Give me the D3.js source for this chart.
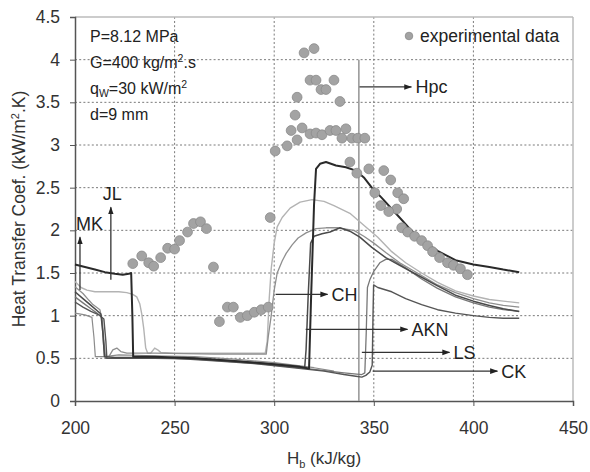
<!DOCTYPE html>
<html>
<head>
<meta charset="utf-8">
<script src="https://cdnjs.cloudflare.com/ajax/libs/d3/7.8.5/d3.min.js"></script>
<style>
body { margin: 0; background: #fff; }
text { font-family: "Liberation Sans", Arial, sans-serif; }
</style>
</head>
<body>
<div id="chart"></div>
<script>
// axis ticks
const xTicks = [200, 250, 300, 350, 400, 450];
const yTicks = [0, 0.5, 1, 1.5, 2, 2.5, 3, 3.5, 4, 4.5];

// experimental points [Hb, h]
const expData = [
  [229,1.61],[233.5,1.70],[237,1.62],[239.5,1.58],[243,1.68],[246.5,1.79],[250,1.78],[252.5,1.88],
  [256.5,1.98],[259.5,2.08],[263,2.10],[266,2.02],[269.5,1.57],
  [272.5,0.93],[276.5,1.10],[279.5,1.10],[283,0.98],[286.5,1.00],[290,1.04],[293.5,1.07],[297,1.10],[298,2.15],
  [300.5,2.93],[306.5,2.99],[308.5,3.17],[310.5,3.35],[311.5,3.06],[311.5,3.56],[314,3.20],[315,4.08],[320,4.13],
  [318,3.76],[321,3.76],[318,3.13],[321,3.14],[323.5,3.65],[324,3.12],[326,3.65],[328,3.17],[330,3.76],[331,3.17],
  [333,3.51],[334,3.08],[336,3.19],[339,3.08],[342,3.08],[345.5,3.08],[338,2.80],[341.5,2.67],[347.5,2.72],
  [350.5,2.44],[355,2.70],[358.5,2.59],[361.5,2.25],[362,2.44],[365,2.37],[353.5,2.29],[357.5,2.22],
  [364,2.03],[367,1.98],[370.5,1.93],[374,1.88],[377,1.82],[379.5,1.75],[383,1.68],[387,1.62],[390,1.59],
  [393.5,1.55],[397,1.48]
];

// correlations [Hb, h]
const jl = [[200,1.60],[205,1.57],[210,1.54],[215,1.51],[220,1.49],[224,1.48],[227,1.49],[228.2,1.50],[228.8,1.0],
  [229.2,0.52],[240,0.52],[260,0.50],[280,0.47],[300,0.43],[313,0.40],[317.5,0.38],[318.5,1.2],[320,2.3],[321,2.72],
  [323,2.78],[326,2.80],[331,2.76],[336,2.74],[341,2.70],[345,2.62],[349,2.50],[354,2.38],[361,2.20],[368,2.02],
  [374,1.89],[382,1.76],[391,1.65],[400,1.60],[408,1.57],[415,1.54],[423,1.51]];
const ch = [[200,1.40],[203,1.33],[206,1.30],[210,1.28],[216,1.28],[222,1.28],[226,1.27],[229,1.25],[231,1.22],
  [232.5,1.14],[233.5,1.02],[234.5,0.85],[235.5,0.62],[236.5,0.56],[238,0.56],[240,0.62],[241.5,0.60],[243,0.57],
  [250,0.56],[270,0.56],[290,0.56],[295.5,0.56],[296.5,0.70],[297.5,1.20],[298.5,1.55],[300,1.85],[301.5,2.04],
  [304,2.15],[308,2.26],[313,2.33],[319,2.36],[325,2.34],[330,2.29],[338,2.20],[346,2.04],[352,1.92],[359,1.75],
  [366,1.62],[374,1.50],[382,1.39],[391,1.29],[400,1.23],[408,1.19],[415,1.17],[423,1.15]];
const mk = [[200,1.34],[204,1.26],[207,1.18],[209,1.13],[212.5,1.07],[213.5,0.95],[214.2,0.70],[214.8,0.52],[217,0.52],
  [219,0.60],[221,0.62],[223,0.58],[226,0.56],[240,0.56],[270,0.55],[296,0.55],[297,0.75],[298.5,1.00],[300,1.30],
  [301.5,1.50],[304,1.64],[306,1.73],[309,1.83],[312,1.91],[316,1.97],[321,2.02],[326,2.03],[332,2.03],[340,2.00],
  [345,1.93],[350,1.85],[356,1.74],[363,1.62],[374,1.47],[382,1.36],[391,1.27],[400,1.20],[408,1.15],[415,1.12],[423,1.10]];
const akn = [[200,1.28],[204,1.20],[208,1.12],[211,1.06],[213,1.02],[214,0.80],[214.8,0.52],[220,0.51],[240,0.51],
  [260,0.50],[280,0.47],[300,0.43],[312,0.40],[315.3,0.39],[316,0.60],[317,1.20],[318.3,1.85],[320,1.93],[324,1.96],
  [328,1.98],[333,2.03],[338,1.99],[343,1.92],[349,1.80],[356,1.68],[363,1.59],[374,1.45],[382,1.35],[391,1.24],
  [400,1.17],[408,1.12],[415,1.08],[423,1.05]];
const ls = [[200,1.22],[204,1.15],[208,1.08],[211,1.03],[213.5,0.98],[214.5,0.70],[215.3,0.50],[220,0.50],[240,0.50],
  [260,0.49],[280,0.46],[300,0.42],[320,0.37],[335,0.33],[344,0.31],[345.5,0.33],[346.2,0.80],[346.8,1.33],[348,1.42],
  [350,1.52],[353,1.62],[356,1.66],[359,1.66],[366,1.56],[374,1.43],[382,1.32],[391,1.22],[400,1.15],[408,1.10],
  [415,1.07],[423,1.05]];
const ck = [[200,1.16],[204,1.10],[208,1.05],[212,1.01],[214.5,0.96],[215.5,0.70],[216,0.50],[230,0.50],[250,0.50],
  [270,0.47],[290,0.44],[310,0.39],[325,0.35],[335,0.31],[341,0.29],[344,0.28],[346,0.30],[348,0.34],[349.2,0.42],
  [349.6,1.00],[349.9,1.36],[352,1.33],[359,1.28],[366,1.20],[374,1.13],[382,1.07],[391,1.03],[400,1.00],[408,0.98],
  [415,0.97],[423,0.97]];
const other = [[200,1.03],[205,1.01],[208.5,0.98],[209.5,0.75],[210.2,0.52],[215,0.52],[222,0.54],[240,0.53],
  [260,0.52],[280,0.49],[300,0.45],[320,0.39],[330,0.35]];

// Hpc line
const hpc = 342.5;

// label arrows: [text, x0, y0, x1, y1]
const arrowLabels = [
  ["MK", 202.5, 1.30, 202.5, 1.92],
  ["JL", 218, 1.42, 218, 2.27],
  ["CH", 300.7, 1.25, 326.8, 1.25],
  ["AKN", 315.8, 0.84, 366.9, 0.84],
  ["LS", 344, 0.57, 388, 0.57],
  ["CK", 349.4, 0.35, 412, 0.35],
  ["Hpc", 342.8, 3.68, 368.9, 3.68]
];

const W = 590, H = 472;
const m = {left: 75, right: 17, top: 17, bottom: 71};

const svg = d3.select("#chart").append("svg")
  .attr("width", W).attr("height", H);

const x = d3.scaleLinear().domain([200, 450]).range([m.left, W - m.right]);
const y = d3.scaleLinear().domain([0, 4.5]).range([H - m.bottom, m.top]);

const defs = svg.append("defs");
defs.append("marker")
  .attr("id", "arr")
  .attr("viewBox", "0 0 10 10")
  .attr("refX", 9).attr("refY", 5)
  .attr("markerWidth", 8).attr("markerHeight", 8)
  .attr("markerUnits", "userSpaceOnUse")
  .attr("orient", "auto")
  .append("path").attr("d", "M0,1.5 L10,5 L0,8.5 Z").attr("fill", "#222");

// grid
svg.append("g").selectAll("line")
  .data(yTicks.filter(d => d > 0 && d < 4.5))
  .enter().append("line")
    .attr("x1", x(200)).attr("x2", x(450))
    .attr("y1", d => y(d)).attr("y2", d => y(d))
    .attr("stroke", "#7a7a7a").attr("stroke-dasharray", "2,2.2");
svg.append("g").selectAll("line")
  .data(xTicks.filter(d => d > 200 && d < 450))
  .enter().append("line")
    .attr("x1", d => x(d)).attr("x2", d => x(d))
    .attr("y1", y(0)).attr("y2", y(4.5))
    .attr("stroke", "#7a7a7a").attr("stroke-dasharray", "2,2.2");

// frame top / right
svg.append("line").attr("x1", x(200)).attr("x2", x(450)).attr("y1", y(4.5)).attr("y2", y(4.5))
  .attr("stroke", "#bbb").attr("stroke-width", 1.5);
svg.append("line").attr("x1", x(450)).attr("x2", x(450)).attr("y1", y(4.5)).attr("y2", y(0))
  .attr("stroke", "#bbb").attr("stroke-width", 1.5);

// axes
const xAxis = svg.append("g").attr("transform", `translate(0,${y(0)})`)
  .call(d3.axisBottom(x).tickValues(xTicks).tickSize(5).tickPadding(16).tickFormat(d3.format("d")));
const yAxis = svg.append("g").attr("transform", `translate(${x(200)},0)`)
  .call(d3.axisLeft(y).tickValues(yTicks).tickSize(5).tickPadding(10).tickFormat(d => String(d)));
[xAxis, yAxis].forEach(g => {
  g.select(".domain").attr("stroke", "#555").attr("stroke-width", 1.5);
  g.selectAll(".tick line").attr("stroke", "#555");
  g.selectAll(".tick text").attr("fill", "#333").style("font-size", "17.5px")
    .style("font-family", '"Liberation Sans", Arial, sans-serif');
});

// Hpc vertical
svg.append("line").attr("x1", x(hpc)).attr("x2", x(hpc)).attr("y1", y(0)).attr("y2", y(4.0))
  .attr("stroke", "#9a9a9a").attr("stroke-width", 1.6);

// curves
const curves = [
  {pts: other, color: "#8c8c8c", w: 1.2},
  {pts: ch, color: "#b3b3b3", w: 1.4},
  {pts: mk, color: "#8f8f8f", w: 1.3},
  {pts: ls, color: "#777", w: 1.3},
  {pts: ck, color: "#555", w: 1.4},
  {pts: akn, color: "#4a4a4a", w: 1.5},
  {pts: jl, color: "#2a2a2a", w: 2}
];
const line = d3.line().x(d => x(d[0])).y(d => y(d[1]));
svg.append("g").selectAll("path")
  .data(curves)
  .enter().append("path")
    .attr("d", d => line(d.pts))
    .attr("fill", "none")
    .attr("stroke", d => d.color)
    .attr("stroke-width", d => d.w)
    .attr("stroke-linejoin", "round");

// experimental dots
svg.append("g").selectAll("circle")
  .data(expData)
  .enter().append("circle")
    .attr("cx", d => x(d[0])).attr("cy", d => y(d[1]))
    .attr("r", 4.9)
    .attr("fill", "#a3a3a3").attr("stroke", "#8a8a8a").attr("stroke-width", 0.8);

// arrows + labels
const ag = svg.append("g");
arrowLabels.forEach(([t, x0, y0, x1, y1]) => {
  ag.append("line")
    .attr("x1", x(x0)).attr("y1", y(y0)).attr("x2", x(x1)).attr("y2", y(y1))
    .attr("stroke", "#333").attr("stroke-width", 1.3)
    .attr("marker-end", "url(#arr)");
  const vertical = x0 === x1;
  ag.append("text")
    .attr("x", vertical ? (t === "MK" ? x(x1) - 4 : x(x1) - 8) : x(x1) + 4)
    .attr("y", vertical ? y(y1) - 7 : y(y1) + 6.5)
    .attr("fill", "#222").style("font-size", "18px")
    .text(t);
});

// legend
svg.append("circle").attr("cx", 409).attr("cy", 36).attr("r", 3.8)
  .attr("fill", "#a3a3a3").attr("stroke", "#8a8a8a").attr("stroke-width", 0.8);
svg.append("text").attr("x", 420).attr("y", 42).attr("fill", "#222")
  .style("font-size", "17.5px").text("experimental data");

// conditions box text
const cond = svg.append("g").attr("fill", "#222").style("font-size", "16px");
cond.append("text").attr("x", 90).attr("y", 42).text("P=8.12 MPa");
const g2 = cond.append("text").attr("x", 90).attr("y", 68);
g2.append("tspan").text("G=400 kg/m");
g2.append("tspan").attr("dy", -6).style("font-size", "10.5px").text("2");
g2.append("tspan").attr("dy", 6).text(".s");
const g3 = cond.append("text").attr("x", 90).attr("y", 94);
g3.append("tspan").text("q");
g3.append("tspan").attr("dy", 3).style("font-size", "10.5px").text("W");
g3.append("tspan").attr("dy", -3).text("=30 kW/m");
g3.append("tspan").attr("dy", -6).style("font-size", "10.5px").text("2");
cond.append("text").attr("x", 90).attr("y", 120).text("d=9 mm");

// axis titles
const xt = svg.append("text").attr("x", x(325)).attr("y", 464).attr("text-anchor", "middle")
  .attr("fill", "#333").style("font-size", "17px");
xt.append("tspan").text("H");
xt.append("tspan").attr("dy", 4).style("font-size", "11px").text("b");
xt.append("tspan").attr("dy", -4).text(" (kJ/kg)");

const yt = svg.append("text").attr("transform", `translate(25,${y(2.25)}) rotate(-90)`)
  .attr("text-anchor", "middle").attr("fill", "#333").style("font-size", "17.5px");
yt.append("tspan").text("Heat Transfer Coef. (kW/m");
yt.append("tspan").attr("dy", -6).style("font-size", "11px").text("2");
yt.append("tspan").attr("dy", 6).text(".K)");
</script>
</body>
</html>
